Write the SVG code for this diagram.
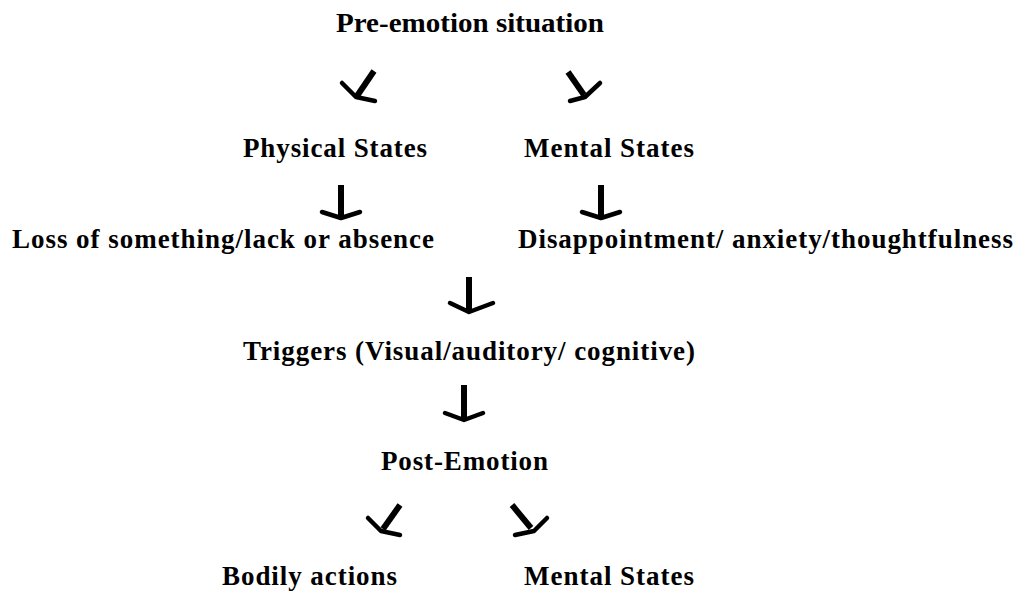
<svg xmlns="http://www.w3.org/2000/svg" width="1017" height="594" viewBox="0 0 1017 594">
  <style>
    .lbl { font-family: "Liberation Serif", "Times New Roman", serif; font-weight: bold; font-size: 27px; fill: #000; }
    .title { font-size: 27px; }
    .shaft { fill: none; stroke: #000; stroke-width: 6; stroke-linecap: butt; }
    .head { fill: none; stroke: #000; stroke-width: 4.5; stroke-linecap: round; stroke-linejoin: round; }
  </style>
  <rect width="1017" height="594" fill="#fff"/>

  <g id="pre-emotion"><text class="lbl title" x="336" y="32" textLength="268" lengthAdjust="spacingAndGlyphs">Pre-emotion situation</text></g>
  <g id="physical-states"><text class="lbl" x="243" y="157" textLength="184" lengthAdjust="spacing">Physical States</text></g>
  <g id="mental-states-1"><text class="lbl" x="524" y="157" textLength="170" lengthAdjust="spacing">Mental States</text></g>
  <g id="loss"><text class="lbl" x="12" y="248" textLength="422" lengthAdjust="spacing">Loss of something/lack or absence</text></g>
  <g id="disappointment"><text class="lbl" x="518" y="248" textLength="495" lengthAdjust="spacing">Disappointment/ anxiety/thoughtfulness</text></g>
  <g id="triggers"><text class="lbl" x="243" y="360" textLength="452" lengthAdjust="spacing">Triggers (Visual/auditory/ cognitive)</text></g>
  <g id="post-emotion"><text class="lbl" x="381" y="470" textLength="167" lengthAdjust="spacing">Post-Emotion</text></g>
  <g id="bodily-actions"><text class="lbl" x="222" y="585" textLength="175" lengthAdjust="spacing">Bodily actions</text></g>
  <g id="mental-states-2"><text class="lbl" x="524" y="585" textLength="170" lengthAdjust="spacing">Mental States</text></g>

  <g id="connectors">
    <!-- pre-emotion to physical / mental -->
    <path class="shaft" d="M374 71 L357 96"/>
    <path class="head" d="M342 83 L356 97 L375 101"/>
    <path class="shaft" d="M568 72 L584 95"/>
    <path class="head" d="M600 83 L585 97 L570 101"/>
    <!-- states to their descriptions -->
    <path class="shaft" d="M341 185 L341 216"/>
    <path class="head" d="M322 212 L341 218 L360 212"/>
    <path class="shaft" d="M601 185 L601 216"/>
    <path class="head" d="M582 212 L601 218 L620 212"/>
    <!-- descriptions to triggers -->
    <path class="shaft" d="M469 277 L469 310"/>
    <path class="head" d="M450 303 L469 312 L493 303"/>
    <!-- triggers to post-emotion -->
    <path class="shaft" d="M464 385 L464 418"/>
    <path class="head" d="M445 413 L464 420 L483 413"/>
    <!-- post-emotion to outcomes -->
    <path class="shaft" d="M400 505 L383 529"/>
    <path class="head" d="M368 518 L381 531 L400 535"/>
    <path class="shaft" d="M512 505 L531 528"/>
    <path class="head" d="M547 518 L534 531 L515 535"/>
  </g>
</svg>
